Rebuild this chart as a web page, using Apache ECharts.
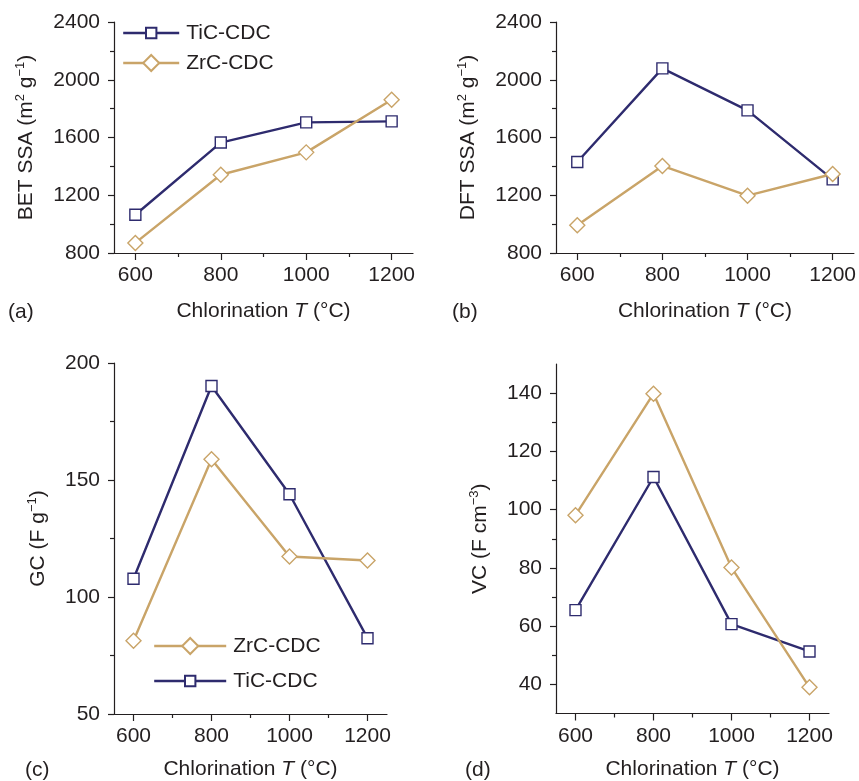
<!DOCTYPE html>
<html>
<head>
<meta charset="utf-8">
<script src="https://cdn.jsdelivr.net/npm/echarts@6/dist/echarts.min.js"></script>
<style>html,body{margin:0;background:#fff}#chart{width:859px;height:781px}</style>
</head>
<body>
<div id="chart"></div>
<script>
// chlorination temperatures (°C)
const temps = [600, 800, 1000, 1200];
// BET / DFT surface areas (m2/g)
const betTiC = [1065, 1565, 1705, 1712];
const betZrC = [870, 1342, 1497, 1862];
const dftTiC = [1430, 2079, 1788, 1310];
const dftZrC = [992, 1403, 1197, 1347];
// gravimetric (F/g) and volumetric (F/cm3) capacitance
const gcTiC = [107.8, 190.2, 143.9, 82.4];
const gcZrC = [81.3, 158.9, 117.3, 115.6];
const vcTiC = [65.5, 111.2, 60.7, 51.3];
const vcZrC = [98.1, 139.8, 80.1, 39.0];
// tick values
const xTicks = [600, 800, 1000, 1200];
const xMinor = [700, 900, 1100];
const vcTicks = [40, 60, 80, 100, 120, 140];
const vcMinor = [50, 70, 90, 110, 130];

const navy = '#2e2b6e';
const tan = '#c9a468';
const ink = '#231f20';
const font = '"Liberation Sans", Arial, sans-serif';
const plain = v => String(v);

const nameRich = {
  n: {fontSize: 21, color: ink, fontFamily: font, lineHeight: 24},
  i: {fontSize: 21, color: ink, fontFamily: font, fontStyle: 'italic', lineHeight: 24},
  s: {fontSize: 13, color: ink, fontFamily: font, verticalAlign: 'top', lineHeight: 13}
};
const xName = '{n|Chlorination }{i|T}{n| (°C)}';

const grids = [
  {left: 114, top: 22, width: 299, height: 231},
  {left: 556, top: 22, width: 298, height: 231},
  {left: 114, top: 363, width: 273, height: 351},
  {left: 556, top: 364, width: 273, height: 350}
];

function xMain(i, gap) {
  return {
    type: 'value', gridIndex: i, min: 550, max: 1250, position: 'bottom',
    name: xName, nameLocation: 'middle', nameGap: gap, nameTextStyle: {rich: nameRich},
    axisLine: {show: true, onZero: false, lineStyle: {color: ink, width: 1.2}},
    axisTick: {show: true, customValues: xTicks, length: 7, lineStyle: {color: ink, width: 1.2}},
    axisLabel: {customValues: xTicks, formatter: plain, margin: 12, fontSize: 21, color: ink, fontFamily: font},
    splitLine: {show: false}
  };
}
function xMinorAxis(i) {
  return {
    type: 'value', gridIndex: i, min: 550, max: 1250, position: 'bottom',
    axisLine: {show: false, onZero: false},
    axisTick: {show: true, customValues: xMinor, length: 4, lineStyle: {color: ink, width: 1.2}},
    axisLabel: {show: false}, splitLine: {show: false}
  };
}
function yMain(i, name, min, max, interval, gap) {
  return {
    type: 'value', gridIndex: i, min: min, max: max, interval: interval, position: 'left',
    name: name, nameLocation: 'middle', nameGap: gap, nameTextStyle: {rich: nameRich},
    axisLine: {show: true, lineStyle: {color: ink, width: 1.2}},
    axisTick: {show: true, length: 6, lineStyle: {color: ink, width: 1.2}},
    minorTick: {show: true, splitNumber: 2, length: 4, lineStyle: {color: ink, width: 1.2}},
    axisLabel: {formatter: plain, margin: 14, fontSize: 21, color: ink, fontFamily: font},
    splitLine: {show: false}
  };
}

const yVC = yMain(3, '{n|VC (F cm}{s|−3}{n|)}', 30, 150, null, 64);
delete yVC.interval;
yVC.minorTick = {show: false};
yVC.axisTick.customValues = vcTicks;
yVC.axisLabel.customValues = vcTicks;
const yVCMinor = {
  type: 'value', gridIndex: 3, min: 30, max: 150, position: 'left',
  axisLine: {show: false},
  axisTick: {show: true, customValues: vcMinor, length: 4, lineStyle: {color: ink, width: 1.2}},
  axisLabel: {show: false}, splitLine: {show: false}
};

function line(name, vals, i, ti) {
  const c = ti ? navy : tan;
  return {
    name: name, type: 'line', xAxisIndex: i, yAxisIndex: i,
    data: temps.map((t, k) => [t, vals[k]]),
    symbol: ti ? 'rect' : 'diamond', symbolSize: ti ? 11 : 15,
    lineStyle: {color: c, width: 2.4},
    itemStyle: {color: '#fff', borderColor: c, borderWidth: 1.4},
    emphasis: {disabled: true}
  };
}

// one legend per entry so square and diamond icons get their own size
function legendItem(name, left, midY, w) {
  const ti = name === 'TiC-CDC';
  const h = ti ? 13 : 20;
  return {
    data: [name], orient: 'vertical', left: left, top: midY - 12, itemWidth: w, itemHeight: h,
    padding: 0, selectedMode: false,
    lineStyle: {width: 2.4},
    textStyle: {fontSize: 21, color: ink, fontFamily: font, lineHeight: 24, padding: [0, 0, 0, 2]}
  };
}

const chart = echarts.init(document.getElementById('chart'));
chart.setOption({
  animation: false,
  backgroundColor: '#fff',
  grid: grids,
  xAxis: [xMain(0, 46), xMain(1, 46), xMain(2, 43), xMain(3, 44),
          xMinorAxis(0), xMinorAxis(1), xMinorAxis(2), xMinorAxis(3)],
  yAxis: [
    yMain(0, '{n|BET SSA (m}{s|2}{n| g}{s|−1}{n|)}', 800, 2400, 400, 76),
    yMain(1, '{n|DFT SSA (m}{s|2}{n| g}{s|−1}{n|)}', 800, 2400, 400, 76),
    yMain(2, '{n|GC (F g}{s|−1}{n|)}', 50, 200, 50, 64),
    yVC, yVCMinor
  ],
  legend: [
    legendItem('TiC-CDC', 122, 33, 56),
    legendItem('ZrC-CDC', 122, 63, 56),
    legendItem('ZrC-CDC', 153, 646, 72),
    legendItem('TiC-CDC', 153, 681, 72)
  ],
  series: [
    line('TiC-CDC', betTiC, 0, true), line('ZrC-CDC', betZrC, 0, false),
    line('TiC-CDC', dftTiC, 1, true), line('ZrC-CDC', dftZrC, 1, false),
    line('TiC-CDC', gcTiC, 2, true), line('ZrC-CDC', gcZrC, 2, false),
    line('TiC-CDC', vcTiC, 3, true), line('ZrC-CDC', vcZrC, 3, false)
  ],
  graphic: [
    {type: 'text', left: 8, top: 302, style: {text: '(a)', fontSize: 21, fontFamily: font, fill: ink}},
    {type: 'text', left: 452, top: 302, style: {text: '(b)', fontSize: 21, fontFamily: font, fill: ink}},
    {type: 'text', left: 25, top: 760, style: {text: '(c)', fontSize: 21, fontFamily: font, fill: ink}},
    {type: 'text', left: 465, top: 760, style: {text: '(d)', fontSize: 21, fontFamily: font, fill: ink}}
  ]
});
</script>
</body>
</html>
